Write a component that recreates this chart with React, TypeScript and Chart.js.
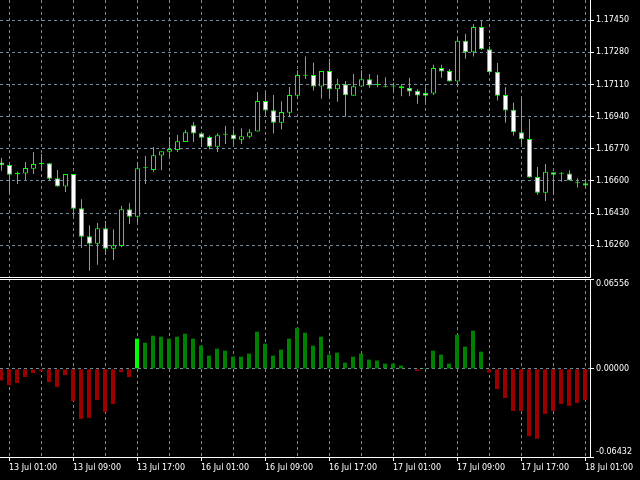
import React, { useEffect, useRef } from 'react';
import { Chart, registerables } from 'chart.js';

Chart.register(...registerables);

// ---- Data (EURUSD H1, 13 Jul 00:00 .. 18 Jul 01:00) ----
const opens = [
  1.16697, 1.16685, 1.16644, 1.16639, 1.16665, 1.16690, 1.16694, 1.16614, 1.16570, 1.16637,
  1.16456, 1.16307, 1.16268, 1.16350, 1.16242, 1.16256, 1.16450, 1.16411, 1.16667, 1.16658,
  1.16735, 1.16755, 1.16764, 1.16806, 1.16895, 1.16852, 1.16832, 1.16781, 1.16844, 1.16846,
  1.16818, 1.16834, 1.16861, 1.17023, 1.16974, 1.16908, 1.16961, 1.17051, 1.17157, 1.17160,
  1.17099, 1.17181, 1.17085, 1.17112, 1.17051, 1.17100, 1.17138, 1.17107, 1.17095, 1.17099,
  1.17101, 1.17091, 1.17077, 1.17065, 1.17062, 1.17197, 1.17182, 1.17126, 1.17341, 1.17281,
  1.17414, 1.17297, 1.17177, 1.17055, 1.16976, 1.16858, 1.16822, 1.16621, 1.16538, 1.16646,
  1.16638, 1.16640, 1.16591, 1.16588,
];
const highs = [
  1.16722, 1.16687, 1.16650, 1.16700, 1.16753, 1.16743, 1.16695, 1.16658, 1.16637, 1.16637,
  1.16503, 1.16366, 1.16378, 1.16390, 1.16344, 1.16468, 1.16482, 1.16700, 1.16732, 1.16780,
  1.16757, 1.16833, 1.16843, 1.16870, 1.16912, 1.16852, 1.16841, 1.16852, 1.16891, 1.16872,
  1.16879, 1.16874, 1.17071, 1.17065, 1.17054, 1.17022, 1.17097, 1.17186, 1.17258, 1.17226,
  1.17181, 1.17248, 1.17141, 1.17128, 1.17166, 1.17186, 1.17166, 1.17161, 1.17149, 1.17121,
  1.17112, 1.17145, 1.17085, 1.17096, 1.17214, 1.17214, 1.17192, 1.17354, 1.17379, 1.17429,
  1.17446, 1.17313, 1.17224, 1.17096, 1.17015, 1.17039, 1.16928, 1.16674, 1.16690, 1.16646,
  1.16646, 1.16657, 1.16614, 1.16613,
];
const lows = [
  1.16654, 1.16539, 1.16584, 1.16605, 1.16637, 1.16653, 1.16603, 1.16570, 1.16542, 1.16415,
  1.16246, 1.16125, 1.16157, 1.16208, 1.16182, 1.16249, 1.16372, 1.16379, 1.16584, 1.16648,
  1.16658, 1.16729, 1.16753, 1.16806, 1.16806, 1.16781, 1.16768, 1.16753, 1.16796, 1.16796,
  1.16796, 1.16824, 1.16861, 1.16954, 1.16851, 1.16872, 1.16937, 1.17033, 1.17139, 1.17078,
  1.17035, 1.17038, 1.17019, 1.16940, 1.17051, 1.17097, 1.17093, 1.17096, 1.17096, 1.17080,
  1.17048, 1.17048, 1.17008, 1.17015, 1.17055, 1.17146, 1.17126, 1.17105, 1.17246, 1.17258,
  1.17293, 1.17169, 1.17025, 1.16908, 1.16840, 1.16795, 1.16618, 1.16527, 1.16494, 1.16527,
  1.16596, 1.16602, 1.16565, 1.16566,
];
const closes = [
  1.16683, 1.16633, 1.16635, 1.16669, 1.16690, 1.16690, 1.16612, 1.16570, 1.16637, 1.16453,
  1.16305, 1.16268, 1.16350, 1.16242, 1.16260, 1.16450, 1.16411, 1.16667, 1.16667, 1.16736,
  1.16757, 1.16769, 1.16810, 1.16858, 1.16851, 1.16829, 1.16781, 1.16842, 1.16844, 1.16820,
  1.16837, 1.16858, 1.17023, 1.16972, 1.16908, 1.16964, 1.17054, 1.17160, 1.17157, 1.17099,
  1.17181, 1.17085, 1.17112, 1.17053, 1.17101, 1.17138, 1.17105, 1.17107, 1.17096, 1.17099,
  1.17090, 1.17073, 1.17052, 1.17051, 1.17197, 1.17179, 1.17126, 1.17341, 1.17281, 1.17414,
  1.17296, 1.17175, 1.17051, 1.16972, 1.16857, 1.16820, 1.16618, 1.16538, 1.16648, 1.16633,
  1.16638, 1.16602, 1.16591, 1.16576,
];
const histValues = [
  -0.00849, -0.01183, -0.01038, -0.00603, -0.00312, -0.00167, -0.00966, -0.01329, -0.00457, -0.02345,
  -0.03652, -0.03579, -0.02272, -0.03144, -0.02563, -0.00240, -0.00603, 0.02200, 0.01909, 0.02418,
  0.02345, 0.02200, 0.02345, 0.02563, 0.02200, 0.01692, 0.00966, 0.01474, 0.01329, 0.00893,
  0.00893, 0.01111, 0.02708, 0.01837, 0.00966, 0.01401, 0.02200, 0.02998, 0.02635, 0.01692,
  0.02345, 0.01038, 0.01183, 0.00457, 0.00893, 0.01111, 0.00675, 0.00603, 0.00385, 0.00385,
  0.00240, 0.00030, -0.00167, 0.00020, 0.01329, 0.01038, 0.00385, 0.02490, 0.01619, 0.02781,
  0.01256, -0.00269, -0.01474, -0.02127, -0.03071, -0.03071, -0.04915, -0.05104, -0.03289, -0.03071,
  -0.02563, -0.02708, -0.02490, -0.02272,
];
const priceTicks = [1.1626, 1.1643, 1.166, 1.1677, 1.1694, 1.1711, 1.1728, 1.1745];
const priceAxisMin = 1.16092;
const priceAxisMax = 1.17557;
const histAxisMin = -0.06432;
const histAxisMax = 0.06556;
const histTickValues = [-0.06432, -0.0609, 0, 0.0618, 0.06556];
const histTickLabels = ['', '-0.06432', '0.00000', '0.06556', ''];
const gridBars = [1, 5, 9, 13, 17, 21, 25, 29, 33, 37, 41, 45, 49, 53, 57, 61, 65, 69, 73];
const timeLabels = [
  '13 Jul 01:00', '13 Jul 09:00', '13 Jul 17:00', '16 Jul 01:00', '16 Jul 09:00',
  '16 Jul 17:00', '17 Jul 01:00', '17 Jul 09:00', '17 Jul 17:00', '18 Jul 01:00',
];

const LIME = '#00ff00';
const GREEN = '#008000';
const RED = '#990000';
const GRID = '#778899';
const WHITE = '#ffffff';
const CLEAR = 'rgba(0,0,0,0)';
const FONT = { family: 'DejaVu Sans', size: 8 };

const noPad = (s: any) => {
  s.paddingTop = 0;
  s.paddingBottom = 0;
  s.paddingLeft = 0;
  s.paddingRight = 0;
};

export default function App() {
  const mainRef = useRef<HTMLCanvasElement>(null);
  const subRef = useRef<HTMLCanvasElement>(null);

  useEffect(() => {
    if (!mainRef.current || !subRef.current) return;

    const bodyData = opens.map((o, i) => ({ x: i, y: [o, closes[i]] }));
    const wickData = lows.map((l, i) => ({ x: i, y: [l, highs[i]] }));
    const bodyColors = opens.map((o, i) => (closes[i] < o ? WHITE : '#000000'));

    const main = new Chart(mainRef.current, {
      type: 'bar',
      data: {
        datasets: [
          {
            label: 'body',
            data: bodyData as any,
            backgroundColor: bodyColors,
            borderColor: LIME,
            borderWidth: 1,
            borderSkipped: false,
            barThickness: 5,
            maxBarThickness: 5,
            grouped: false,
            inflateAmount: 0,
            minBarLength: 1,
            order: 0,
          } as any,
          {
            label: 'wick',
            data: wickData as any,
            backgroundColor: LIME,
            borderWidth: 0,
            borderSkipped: false,
            barThickness: 1,
            maxBarThickness: 1,
            grouped: false,
            inflateAmount: 0,
            minBarLength: 1,
            order: 1,
          } as any,
        ],
      },
      options: {
        animation: false,
        responsive: false,
        devicePixelRatio: 1,
        layout: { padding: 0, autoPadding: false } as any,
        plugins: { legend: { display: false }, tooltip: { enabled: false } },
        events: [],
        scales: {
          x: {
            type: 'linear',
            position: 'bottom',
            min: -0.1875,
            max: 73.5625,
            offset: false,
            afterBuildTicks: (s: any) => {
              s.ticks = gridBars.map((v) => ({ value: v }));
            },
            afterFit: (s: any) => {
              s.height = 1;
              noPad(s);
            },
            ticks: { display: false },
            grid: { color: GRID, lineWidth: 1, drawTicks: false, offset: false },
            border: { display: true, color: WHITE, width: 1, dash: [3, 3] },
          } as any,
          y: {
            type: 'linear',
            position: 'right',
            min: priceAxisMin,
            max: priceAxisMax,
            beginAtZero: false,
            afterBuildTicks: (s: any) => {
              s.ticks = priceTicks.map((v) => ({ value: v }));
            },
            afterFit: (s: any) => {
              s.width = 50;
              noPad(s);
            },
            ticks: {
              color: WHITE,
              font: FONT,
              padding: 2,
              callback: (v: any) => Number(v).toFixed(5),
            },
            grid: {
              color: GRID,
              lineWidth: 1,
              drawTicks: true,
              tickLength: 4,
              tickColor: WHITE,
              tickBorderDash: [],
            },
            border: { display: true, color: WHITE, width: 1, dash: [3, 3] },
          } as any,
        },
      },
    });

    const histColors = histValues.map((v, i) =>
      v < 0 ? RED : i > 0 && histValues[i - 1] < 0 ? LIME : GREEN
    );

    const sub = new Chart(subRef.current, {
      type: 'bar',
      data: {
        datasets: [
          {
            label: 'hist',
            data: histValues.map((v, i) => ({ x: i, y: v })) as any,
            backgroundColor: histColors,
            borderWidth: 0,
            barThickness: 4,
            maxBarThickness: 4,
            grouped: false,
            inflateAmount: 0,
            xAxisID: 'x',
            yAxisID: 'y',
          } as any,
        ],
      },
      options: {
        animation: false,
        responsive: false,
        devicePixelRatio: 1,
        layout: { padding: 0, autoPadding: false } as any,
        plugins: { legend: { display: false }, tooltip: { enabled: false } },
        events: [],
        scales: {
          x: {
            type: 'linear',
            position: 'bottom',
            min: -0.1275,
            max: 73.6225,
            offset: false,
            afterBuildTicks: (s: any) => {
              s.ticks = gridBars.map((v) => ({ value: v }));
            },
            afterFit: (s: any) => {
              s.height = 23;
              noPad(s);
            },
            ticks: {
              color: WHITE,
              font: FONT,
              align: 'start',
              padding: 2,
              autoSkip: false,
              maxRotation: 0,
              minRotation: 0,
              callback: (_v: any, i: number) => (i % 2 === 0 ? timeLabels[i / 2] : ''),
            },
            grid: {
              color: GRID,
              lineWidth: 1,
              offset: false,
              drawTicks: true,
              tickLength: 4,
              tickColor: (ctx: any) => (ctx.index % 2 === 0 ? WHITE : CLEAR),
              tickBorderDash: [],
            },
            border: { display: true, color: WHITE, width: 1, dash: [3, 3] },
          } as any,
          xTop: {
            type: 'linear',
            position: 'top',
            min: 0,
            max: 1,
            afterFit: (s: any) => {
              s.height = 1;
              noPad(s);
            },
            ticks: { display: false },
            grid: { display: false, drawTicks: false },
            border: { display: true, color: WHITE, width: 1 },
          } as any,
          y: {
            type: 'linear',
            position: 'right',
            min: histAxisMin,
            max: histAxisMax,
            beginAtZero: false,
            afterBuildTicks: (s: any) => {
              s.ticks = histTickValues.map((v) => ({ value: v }));
            },
            afterFit: (s: any) => {
              s.width = 50;
              noPad(s);
            },
            ticks: {
              color: WHITE,
              font: FONT,
              padding: 2,
              callback: (_v: any, i: number) => histTickLabels[i],
            },
            grid: {
              color: (ctx: any) => (ctx.tick && ctx.tick.value === 0 ? GRID : CLEAR),
              lineWidth: 1,
              drawTicks: true,
              tickLength: 4,
              tickColor: (ctx: any) => (ctx.index % 2 === 0 ? WHITE : CLEAR),
              tickBorderDash: [],
            },
            border: { display: true, color: WHITE, width: 1, dash: [3, 3] },
          } as any,
        },
      },
    });

    return () => {
      main.destroy();
      sub.destroy();
    };
  }, []);

  return (
    <div
      style={{
        position: 'fixed',
        left: 0,
        top: 0,
        width: 640,
        height: 480,
        background: '#000000',
        overflow: 'hidden',
      }}
    >
      <canvas
        ref={mainRef}
        width={640}
        height={278}
        style={{ position: 'absolute', left: 0, top: 0, width: 640, height: 278 }}
      />
      <canvas
        ref={subRef}
        width={640}
        height={202}
        style={{ position: 'absolute', left: 0, top: 278, width: 640, height: 202 }}
      />
    </div>
  );
}
